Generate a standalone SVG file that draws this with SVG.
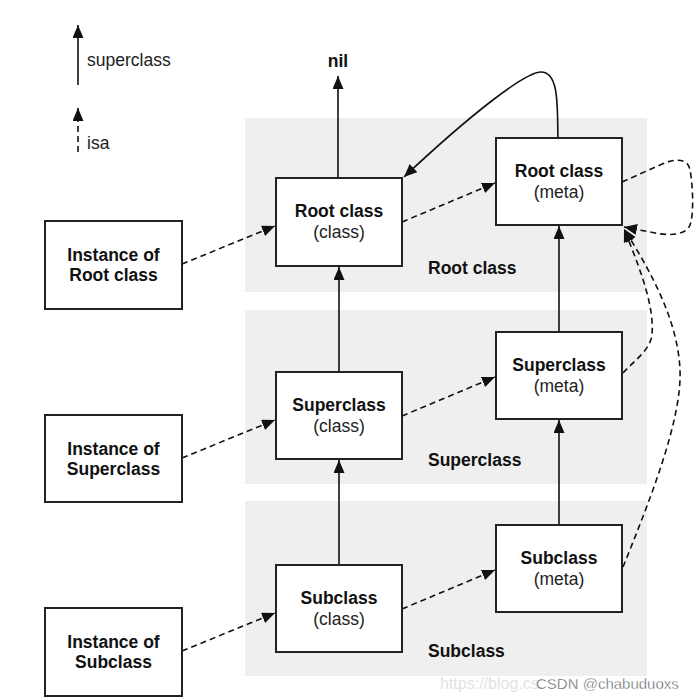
<svg xmlns="http://www.w3.org/2000/svg" width="696" height="700" viewBox="0 0 696 700">
<style>
.panel{fill:#efefef}
.box{fill:#fff;stroke:#222;stroke-width:2}
.b{font-family:"Liberation Sans",Arial,sans-serif;font-weight:bold;font-size:17.5px;fill:#111}
.r{font-family:"Liberation Sans",Arial,sans-serif;font-size:17.5px;fill:#222}
.sup{fill:none;stroke:#111;stroke-width:1.6;marker-end:url(#ah)}
.isa{fill:none;stroke:#111;stroke-width:1.6;stroke-dasharray:6,4;marker-end:url(#ah)}
.c{text-anchor:middle}
</style>
<defs>
<marker id="ah" markerUnits="userSpaceOnUse" markerWidth="14" markerHeight="12" refX="13" refY="5.5" orient="auto">
<path d="M0,0 L13,5.5 L0,11 z" fill="#111"/>
</marker>
</defs>
<rect width="696" height="700" fill="#fff"/>

<g id="panels">
<rect class="panel" x="245" y="118" width="402" height="174"/>
<rect class="panel" x="245" y="310" width="402" height="174"/>
<rect class="panel" x="245" y="501" width="402" height="175"/>
<text class="b" x="428" y="274">Root class</text>
<text class="b" x="428" y="466">Superclass</text>
<text class="b" x="428" y="657">Subclass</text>
</g>

<g id="legend">
<line class="sup" x1="78" y1="85" x2="78" y2="25"/>
<text class="r" x="87" y="66">superclass</text>
<line class="isa" x1="78" y1="168" x2="78" y2="108" style="stroke-dasharray:0,16,6,4,6,4,6,4,6,4,6,4"/>
<text class="r" x="87" y="149">isa</text>
</g>

<g id="connectors">
<line class="sup" x1="338" y1="178" x2="338" y2="76"/>
<line class="sup" x1="339" y1="372" x2="339" y2="267"/>
<line class="sup" x1="339" y1="565" x2="339" y2="460"/>
<line class="sup" x1="559" y1="332" x2="559" y2="226"/>
<line class="sup" x1="559" y1="525" x2="559" y2="420"/>
<path class="sup" d="M558,138 C557,110 560,72 541,72 C525,72 470,115 404,177"/>
<line class="isa" x1="182" y1="264" x2="275" y2="226"/>
<line class="isa" x1="402" y1="222" x2="495" y2="183"/>
<line class="isa" x1="182" y1="458" x2="275" y2="420"/>
<line class="isa" x1="402" y1="416" x2="495" y2="377"/>
<line class="isa" x1="182" y1="651" x2="275" y2="613"/>
<line class="isa" x1="402" y1="609" x2="495" y2="570"/>
<path class="isa" d="M622,182 L660,165 C675,158 688,158 690,170 C693,185 694,215 690,225 C686,235 670,236 655,233 L624,227"/>
<path class="isa" d="M623,373 C635,360 650,350 652,335 C654,310 645,280 624,229"/>
<path class="isa" d="M623,567 C650,500 682,420 680,370 C678,320 650,270 624,229"/>
</g>

<text class="b c" x="338" y="67">nil</text>

<g id="inst-root">
<rect class="box" x="45" y="221" width="137" height="88"/>
<text class="b c" x="113.5" y="261">Instance of</text>
<text class="b c" x="113.5" y="281">Root class</text>
</g>
<g id="inst-super">
<rect class="box" x="45" y="415" width="137" height="87"/>
<text class="b c" x="113.5" y="454.5">Instance of</text>
<text class="b c" x="113.5" y="474.5">Superclass</text>
</g>
<g id="inst-sub">
<rect class="box" x="45" y="608" width="137" height="88"/>
<text class="b c" x="113.5" y="648">Instance of</text>
<text class="b c" x="113.5" y="668">Subclass</text>
</g>

<g id="root-class">
<rect class="box" x="276" y="178" width="126" height="88"/>
<text class="b c" x="339" y="217">Root class</text>
<text class="r c" x="339" y="238">(class)</text>
</g>
<g id="super-class">
<rect class="box" x="276" y="372" width="126" height="87"/>
<text class="b c" x="339" y="411">Superclass</text>
<text class="r c" x="339" y="432">(class)</text>
</g>
<g id="sub-class">
<rect class="box" x="276" y="565" width="126" height="87"/>
<text class="b c" x="339" y="604">Subclass</text>
<text class="r c" x="339" y="625">(class)</text>
</g>

<g id="root-meta">
<rect class="box" x="496" y="138" width="126" height="87"/>
<text class="b c" x="559" y="177">Root class</text>
<text class="r c" x="559" y="198">(meta)</text>
</g>
<g id="super-meta">
<rect class="box" x="496" y="332" width="126" height="87"/>
<text class="b c" x="559" y="371">Superclass</text>
<text class="r c" x="559" y="392">(meta)</text>
</g>
<g id="sub-meta">
<rect class="box" x="496" y="525" width="126" height="87"/>
<text class="b c" x="559" y="564">Subclass</text>
<text class="r c" x="559" y="585">(meta)</text>
</g>

<g id="watermark">
<text x="440" y="689" font-family="'Liberation Sans',Arial,sans-serif" font-size="16" fill="#e2e2e2">https://blog.cs</text>
<text x="536" y="689" font-family="'Liberation Sans',Arial,sans-serif" font-size="15" fill="#555" stroke="#fff" stroke-width="0.4">CSDN @chabuduoxs</text>
</g>
</svg>
